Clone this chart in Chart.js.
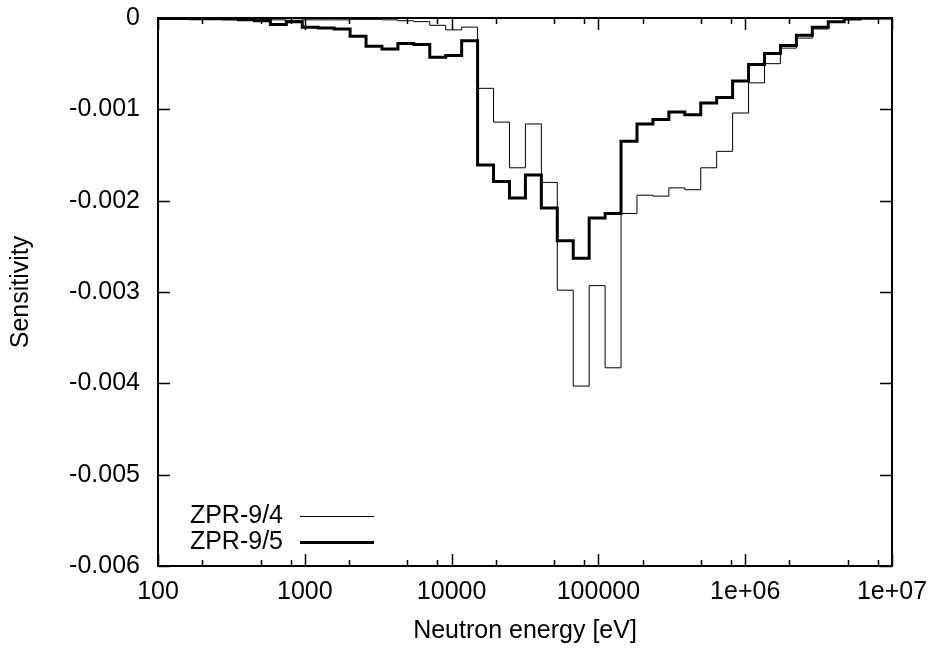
<!DOCTYPE html>
<html>
<head>
<meta charset="utf-8">
<script src="https://cdn.jsdelivr.net/npm/chart.js@4.4.1/dist/chart.umd.min.js"></script>
<style>
  html, body { margin: 0; padding: 0; background: #ffffff; }
  #wrap { width: 936px; height: 650px; position: relative; }
</style>
</head>
<body>
<div id="wrap"><canvas id="c" width="936" height="650"></canvas></div>
<script>
// Group boundaries (eV), ascending; 70-group structure, lethargy width 0.25
const energyBounds = [78.89, 101.30, 130.07, 167.02, 214.45, 275.36, 353.58, 454.00, 582.95, 748.52,
  961.12, 1234.1, 1584.6, 2034.7, 2612.6, 3354.6, 4307.4, 5530.8, 7101.7, 9118.8,
  11709, 15034, 19305, 24788, 31828, 40868, 52475, 67379, 86517, 111090,
  142640, 183160, 235180, 301970, 387740, 497870, 639280, 820850, 1054000, 1353400,
  1737700, 2231300, 2865000, 3678800, 4723700, 6065300, 7788000, 10000000];

// Sensitivity per group (ascending energy)
const zpr94 = [-0.000002, -0.000003, -0.000005, -0.000007, -0.00001, -0.000012, -0.000015, -0.00002, -0.00002, -0.000025,
  -0.00002, -0.00002, -0.00002, -0.000015, -0.000015, -0.00002, -0.00003, -0.00004, -0.00008, -0.00013,
  -0.0001, -0.00077, -0.00114, -0.00164, -0.00116, -0.0018, -0.00298, -0.00403, -0.00293, -0.00383,
  -0.00214, -0.00194, -0.00195, -0.00186, -0.00188, -0.00164, -0.00146, -0.00104, -0.00071, -0.0005,
  -0.00033, -0.00022, -0.00012, -0.000044, -0.00001, -0.000003, -0.000001];

const zpr95 = [-0.000005, -0.000005, -0.000006, -0.000007, -0.000008, -0.00001, -0.00002, -0.00003, -0.00007, -0.00004,
  -0.0001, -0.00011, -0.00012, -0.0002, -0.00031, -0.00034, -0.00028, -0.00029, -0.00043, -0.00041,
  -0.00025, -0.00161, -0.00179, -0.00197, -0.00172, -0.00208, -0.00244, -0.00263, -0.00219, -0.00214,
  -0.00135, -0.00116, -0.00111, -0.00103, -0.00106, -0.00093, -0.00087, -0.00069, -0.00051, -0.00039,
  -0.0003, -0.00019, -0.0001, -0.00004, -0.00001, -0.000003, -0.000001];

const seriesLabels = ['ZPR-9/4', 'ZPR-9/5'];
const xTickValues = [100, 1000, 10000, 100000, 1000000, 10000000];
const xTickLabels = ['100', '1000', '10000', '100000', '1e+06', '1e+07'];
const xMinorValues = [200, 500, 800, 2000, 5000, 8000, 20000, 50000, 80000, 200000, 500000, 800000, 2000000, 5000000, 8000000];
const yTickValues = [0, -0.001, -0.002, -0.003, -0.004, -0.005, -0.006];
const yTickLabels = ['0', '-0.001', '-0.002', '-0.003', '-0.004', '-0.005', '-0.006'];

function toSteps(vals) {
  const pts = vals.map((v, i) => ({ x: energyBounds[i], y: v }));
  pts.push({ x: energyBounds[vals.length], y: vals[vals.length - 1] });
  return pts;
}

const FONT = 'Liberation Sans, Arial, Helvetica, sans-serif';
const FS = 25;

const framePlugin = {
  id: 'frame',
  beforeDraw(chart) {
    const ctx = chart.ctx;
    ctx.save();
    ctx.fillStyle = '#ffffff';
    ctx.fillRect(0, 0, chart.width, chart.height);
    ctx.restore();
  },
  afterDatasetsDraw(chart) {
    const ctx = chart.ctx;
    const a = chart.chartArea;
    const xs = chart.scales.x, ys = chart.scales.y;
    ctx.save();
    ctx.strokeStyle = '#000';
    ctx.lineWidth = 1.5;
    ctx.beginPath();
    xTickValues.forEach(v => {
      const p = Math.round(xs.getPixelForValue(v)) + 0.5;
      ctx.moveTo(p, a.bottom); ctx.lineTo(p, a.bottom - 12);
      ctx.moveTo(p, a.top); ctx.lineTo(p, a.top + 12);
    });
    xMinorValues.forEach(v => {
      const p = Math.round(xs.getPixelForValue(v)) + 0.5;
      ctx.moveTo(p, a.bottom); ctx.lineTo(p, a.bottom - 6);
      ctx.moveTo(p, a.top); ctx.lineTo(p, a.top + 6);
    });
    yTickValues.forEach(v => {
      const p = Math.round(ys.getPixelForValue(v)) + 0.5;
      ctx.moveTo(a.left, p); ctx.lineTo(a.left + 12, p);
      ctx.moveTo(a.right, p); ctx.lineTo(a.right - 12, p);
    });
    ctx.stroke();
    ctx.lineWidth = 2;
    ctx.strokeRect(a.left, a.top, a.right - a.left, a.bottom - a.top);

    // legend (gnuplot style: text right-aligned, sample to the right)
    ctx.font = FS + 'px ' + FONT;
    ctx.fillStyle = '#000';
    ctx.textAlign = 'right';
    ctx.textBaseline = 'middle';
    const rows = [516, 542];
    chart.data.datasets.forEach((ds, i) => {
      const y = rows[i];
      ctx.fillText(ds.label, 283, y);
      ctx.lineWidth = ds.borderWidth;
      ctx.beginPath();
      ctx.moveTo(300, y + 0.5); ctx.lineTo(374, y + 0.5);
      ctx.stroke();
    });
    ctx.restore();
  }
};

new Chart(document.getElementById('c'), {
  type: 'line',
  data: {
    datasets: [
      { label: seriesLabels[0], data: toSteps(zpr94), borderColor: '#000', borderWidth: 1, stepped: true, pointRadius: 0, fill: false, order: 1 },
      { label: seriesLabels[1], data: toSteps(zpr95), borderColor: '#000', borderWidth: 3, stepped: true, pointRadius: 0, fill: false, order: 2 }
    ]
  },
  options: {
    responsive: false,
    animation: false,
    layout: { padding: { left: 0, right: 44, top: 18, bottom: 0 } },
    plugins: { legend: { display: false }, tooltip: { enabled: false } },
    scales: {
      x: {
        type: 'logarithmic',
        min: 100, max: 10000000,
        grid: { display: false, drawTicks: false },
        border: { display: false },
        afterBuildTicks: s => { s.ticks = xTickValues.map(v => ({ value: v })); },
        afterFit: s => { s.height = 84; s.paddingLeft = 0; s.paddingRight = 0; s.paddingTop = 0; s.paddingBottom = 0; },
        ticks: {
          autoSkip: false, maxRotation: 0, padding: 11, color: '#000',
          font: { family: FONT, size: FS },
          callback: (v) => xTickLabels[xTickValues.indexOf(v)]
        },
        title: { display: true, text: 'Neutron energy [eV]', color: '#000', font: { family: FONT, size: FS }, padding: { top: 0, bottom: 4 } }
      },
      y: {
        type: 'linear',
        min: -0.006, max: 0,
        grid: { display: false, drawTicks: false },
        border: { display: false },
        afterBuildTicks: s => { s.ticks = yTickValues.map(v => ({ value: v })); },
        afterFit: s => { s.width = 158; s.paddingLeft = 0; s.paddingRight = 0; s.paddingTop = 0; s.paddingBottom = 0; },
        ticks: {
          autoSkip: false, padding: 18, color: '#000',
          font: { family: FONT, size: FS },
          callback: (v) => yTickLabels[yTickValues.indexOf(v)]
        },
        title: { display: true, text: 'Sensitivity', color: '#000', font: { family: FONT, size: FS }, padding: { top: 6, bottom: 0 } }
      }
    }
  },
  plugins: [framePlugin]
});
</script>
</body>
</html>
